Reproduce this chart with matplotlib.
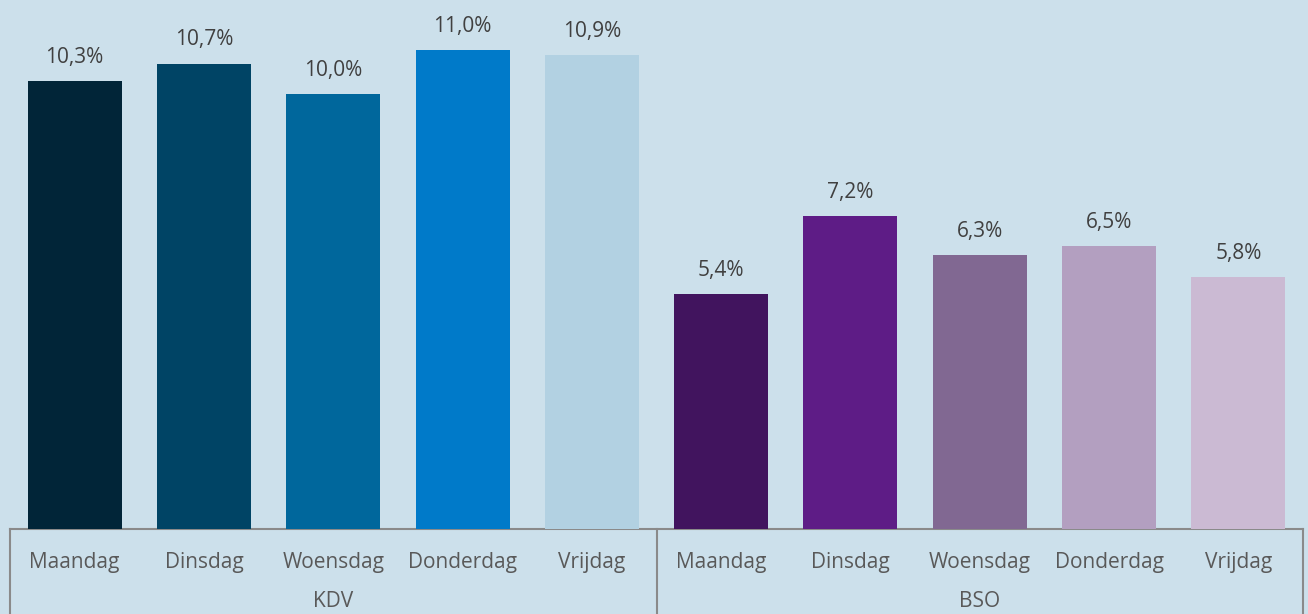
import matplotlib.pyplot as plt
import numpy as np

groups = ['KDV', 'BSO']
days = ['Maandag', 'Dinsdag', 'Woensdag', 'Donderdag', 'Vrijdag']
kdv = [10.3, 10.7, 10.0, 11.0, 10.9]
bso = [5.4, 7.2, 6.3, 6.5, 5.8]
kdv_colors = ['#012538', '#004465', '#00679c', '#007ac9', '#b2d1e2']
bso_colors = ['#41145e', '#5e1c86', '#816892', '#b39fc0', '#cbbad3']

bg = '#cce0eb'
line_c = '#8a8a8a'
plt.rcParams['font.family'] = ['Open Sans', 'DejaVu Sans']

fig = plt.figure(figsize=(13.08, 6.14), dpi=100, facecolor=bg)
ax = fig.add_axes([10/1308, 85/614, 1293/1308, 529/614])
ax.set_facecolor(bg)

values = kdv + bso
colors = kdv_colors + bso_colors
x = np.arange(len(values))
bars = ax.bar(x, values, width=0.727, color=colors, zorder=3)

for b, v in zip(bars, values):
    ax.annotate(f'{v:.1f}%'.replace('.', ','),
                (b.get_x() + b.get_width()/2, v),
                xytext=(0, 13), textcoords='offset points',
                ha='center', va='baseline', fontsize=15, color='#404040')

ax.set_xlim(-0.5, len(values) - 0.5)
ax.set_ylim(0, 12.16)
ax.set_xticks([])
ax.set_yticks([])
for s in ['top', 'right', 'left']:
    ax.spines[s].set_visible(False)
ax.spines['bottom'].set_color(line_c)
ax.spines['bottom'].set_linewidth(1.5)

# grouped category axis
tr = ax.get_xaxis_transform()
for xv in [-0.5, 4.5, 9.5]:
    ax.plot([xv, xv], [0, -0.17], transform=tr, color=line_c, lw=1.5, clip_on=False)

for i, xv in enumerate(x):
    ax.text(xv, -39/529, days[i % 5], transform=tr, ha='center', va='baseline',
            fontsize=15, color='#595959')

for g, name in enumerate(groups):
    ax.text(g*5 + 2, -78/529, name, transform=tr, ha='center', va='baseline',
            fontsize=15, color='#595959')

fig.savefig('out.png', dpi=100, facecolor=bg)
